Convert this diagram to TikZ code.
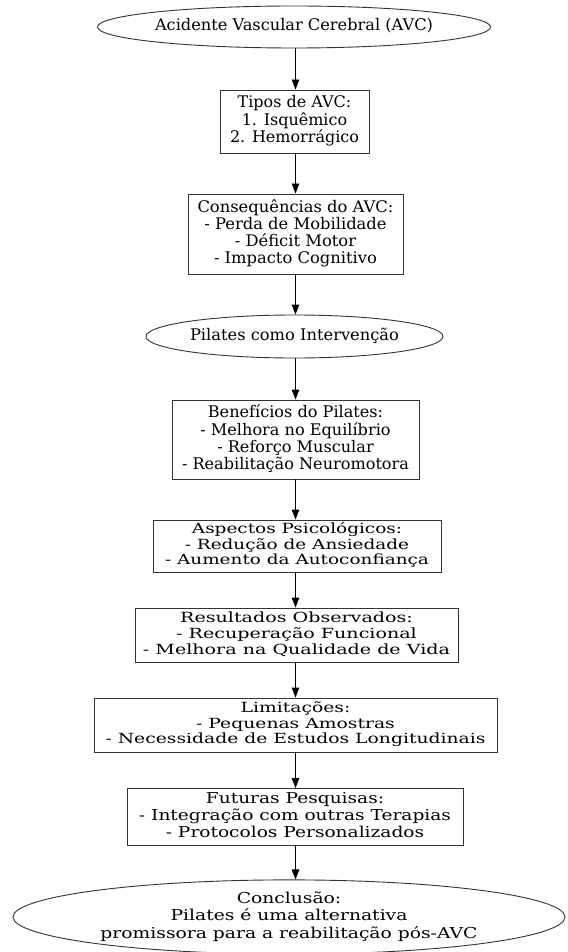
\documentclass[tikz,border=0pt]{standalone}
\usepackage{fontspec}
\usepackage{graphicx}
\setmainfont{DejaVu Serif}
\usetikzlibrary{shapes.geometric,arrows.meta}
\newcommand\fitlines[4]{\resizebox{#1pt}{\height}{\fontsize{#2}{#3}\selectfont\begin{tabular}{@{}c@{}}#4\end{tabular}}}
\tikzset{
  x=1pt,y=-1pt,
  every node/.style={align=center, inner sep=0pt, draw=black!80, line width=0.9pt},
  boxnode/.style={rectangle},
  ellnode/.style={ellipse},
  conn/.style={draw=black, line width=0.9pt, -{Triangle[length=10pt,width=7.5pt]}},
}
\begin{document}
\begin{tikzpicture}
\useasboundingbox (0,0) rectangle (567,952);
\fill[white] (0,0) rectangle (567,952);
\coordinate (axis) at (295.5,0);
\node[ellnode, minimum width=388, minimum height=42] (avc) at (294,27) {\fitlines{278}{16}{16.5}{Acidente Vascular Cerebral (AVC)}};
\node[boxnode, minimum width=149, minimum height=63] (tipos) at (294.5,121.5) {\fitlines{129}{16}{16.5}{Tipos de AVC:\\1. Isquêmico\\2. Hemorrágico}};
\node[boxnode, minimum width=215, minimum height=80] (cons) at (295.5,234) {\fitlines{196}{16}{16.5}{Consequências do AVC:\\- Perda de Mobilidade\\- Déficit Motor\\- Impacto Cognitivo}};
\node[ellnode, minimum width=297, minimum height=43] (pil) at (294.5,336.5) {\fitlines{209}{16}{16.5}{Pilates como Intervenção}};
\node[boxnode, minimum width=247, minimum height=79] (ben) at (295.5,439.5) {\fitlines{227}{16}{16.5}{Benefícios do Pilates:\\- Melhora no Equilíbrio\\- Reforço Muscular\\- Reabilitação Neuromotora}};
\node[boxnode, minimum width=288, minimum height=52] (asp) at (297,546) {\fitlines{264}{14}{15.3}{Aspectos Psicológicos:\\- Redução de Ansiedade\\- Aumento da Autoconfiança}};
\node[boxnode, minimum width=323, minimum height=54] (res) at (296.5,635) {\fitlines{307}{14}{16}{Resultados Observados:\\- Recuperação Funcional\\- Melhora na Qualidade de Vida}};
\node[boxnode, minimum width=403, minimum height=54] (lim) at (295.5,725) {\fitlines{380}{14}{15.8}{Limitações:\\- Pequenas Amostras\\- Necessidade de Estudos Longitudinais}};
\node[boxnode, minimum width=336, minimum height=57] (fut) at (295,817) {\fitlines{312}{15}{17.3}{Futuras Pesquisas:\\- Integração com outras Terapias\\- Protocolos Personalizados}};
\node[ellnode, minimum width=552, minimum height=68] (conc) at (289,917) {\fitlines{377}{15}{17.5}{Conclusão:\\Pilates é uma alternativa\\promissora para a reabilitação pós-AVC}};
\draw[conn] (axis |- avc.south) -- (axis |- tipos.north);
\draw[conn] (axis |- tipos.south) -- (axis |- cons.north);
\draw[conn] (axis |- cons.south) -- (axis |- pil.north);
\draw[conn] (axis |- pil.south) -- (axis |- ben.north);
\draw[conn] (axis |- ben.south) -- (axis |- asp.north);
\draw[conn] (axis |- asp.south) -- (axis |- res.north);
\draw[conn] (axis |- res.south) -- (axis |- lim.north);
\draw[conn] (axis |- lim.south) -- (axis |- fut.north);
\draw[conn] (axis |- fut.south) -- (axis |- conc.north);
\end{tikzpicture}
\end{document}
